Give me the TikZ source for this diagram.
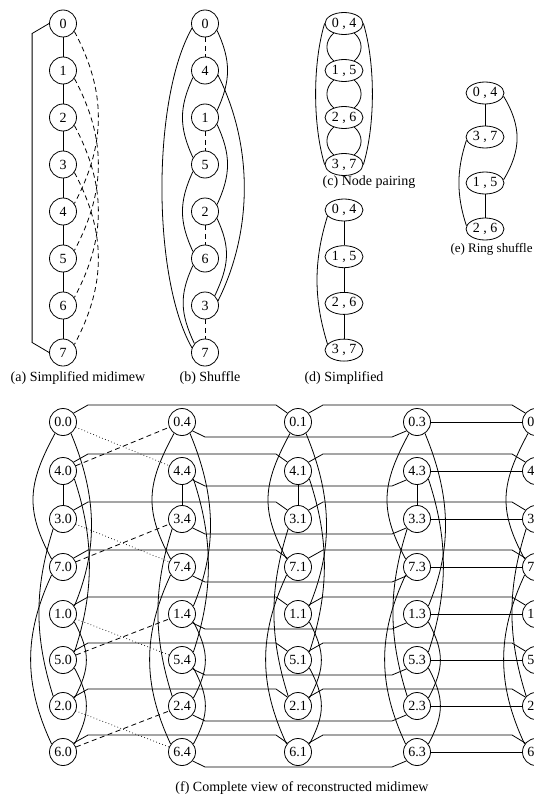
\documentclass[tikz,border=0pt]{standalone}
\usepackage{fontspec}
\setmainfont{Liberation Serif}
\usetikzlibrary{calc,shapes.geometric}
\begin{document}
\begin{tikzpicture}[x=1pt,y=-1pt,line width=0.8pt,
  every node/.style={font=\fontsize{14}{16}\selectfont},
  cnode/.style={circle,draw,fill=white,minimum size=27pt,inner sep=0pt},
  enode/.style={ellipse,draw,fill=white,minimum width=38pt,minimum height=22pt,inner sep=0pt},
  dsh/.style={dash pattern=on 5pt off 3.5pt},
  dtt/.style={line cap=round,dash pattern=on 0pt off 3.2pt,line width=1pt},
  captext/.style={inner sep=0pt}]
\useasboundingbox (0,0) rectangle (534,797);
\clip (0,0) rectangle (534,797);

% ---------------- (a) Simplified midimew
\foreach \k in {0,...,7}
  \node[cnode] (a\k) at (63,{23.5+47*\k}) {\k};
\foreach \k [evaluate=\k as \n using int(\k+1)] in {0,...,6}
  \draw (a\k) -- (a\n);
\foreach \k [evaluate=\k as \n using int(\k+4)] in {0,...,3}
  \draw[dsh] (a\k.-35) .. controls +(32,60) and +(32,-60) .. (a\n.35);
\draw (a0.west) -- ++(-17,10) -- ($(a7.west)+(-17,-10)$) -- (a7.west);
\node[captext] (capa) at (78,378) {(a) Simplified midimew};

% ---------------- (b) Shuffle
\foreach \k/\l in {0/0,1/4,2/1,3/5,4/2,5/6,6/3,7/7}
  \node[cnode] (b\k) at (205,{23.5+47*\k}) {\l};
\foreach \k [evaluate=\k as \n using int(\k+1)] in {0,2,4,6}
  \draw[dsh] (b\k) -- (b\n);
\draw (b0.200) .. controls +(-40,70) and +(-40,-70) .. (b7.160);
\draw (b1.-20) .. controls +(35,70) and +(35,-70) .. (b6.20);
\draw (b0.-30) .. controls +(14,30) and +(14,-30) .. (b2.30);
\draw (b2.-30) .. controls +(14,30) and +(14,-30) .. (b4.30);
\draw (b4.-30) .. controls +(14,30) and +(14,-30) .. (b6.45);
\draw (b1.210) .. controls +(-14,30) and +(-14,-30) .. (b3.150);
\draw (b3.210) .. controls +(-14,30) and +(-14,-30) .. (b5.150);
\draw (b5.210) .. controls +(-14,30) and +(-14,-30) .. (b7.140);
\node[captext] (capb) at (210,378) {(b) Shuffle};

% ---------------- (c) Node pairing
\foreach \k/\l in {0/{0 , 4},1/{1 , 5},2/{2 , 6},3/{3 , 7}}
  \node[enode] (c\k) at (344,{23.5+47*\k}) {\l};
\foreach \k [evaluate=\k as \n using int(\k+1)] in {0,1,2}{
  \draw (c\k.223) .. controls +(-9,8) and +(-9,-8) .. (c\n.137);
  \draw (c\k.317) .. controls +(9,8) and +(9,-8) .. (c\n.43);
}
\draw (c0.west) .. controls +(-12,40) and +(-12,-40) .. (c3.west);
\draw (c0.east) .. controls +(12,40) and +(12,-40) .. (c3.east);
\node[captext] (capc) at (369,182) {(c) Node pairing};

% ---------------- (d) Simplified
\foreach \k/\l in {0/{0 , 4},1/{1 , 5},2/{2 , 6},3/{3 , 7}}
  \node[enode] (d\k) at (344,{210+46.7*\k}) {\l};
\draw (d0) -- (d1) -- (d2) -- (d3);
\draw (d0.200) .. controls +(-14,45) and +(-14,-45) .. (d3.160);
\node[captext] (capd) at (344,378) {(d) Simplified};

% ---------------- (e) Ring shuffle
\node[enode] (e0) at (485,93) {0 , 4};
\node[enode] (e1) at (485,137) {3 , 7};
\node[enode] (e2) at (485,183) {1 , 5};
\node[enode] (e3) at (485,229) {2 , 6};
\draw (e0) -- (e1);
\draw (e2) -- (e3);
\draw (e0.-10) .. controls +(18,30) and +(18,-30) .. (e2.10);
\draw (e1.190) .. controls +(-10,30) and +(-10,-30) .. (e3.170);
\node[captext,anchor=east,font=\fontsize{13}{15}\selectfont] (cape) at (533,249) {(e) Ring shuffle};

% ---------------- (f) Complete view
\foreach \c/\x/\d in {0/63/0,1/182/4,2/298/1,3/417/3,4/536/7}{
  \foreach \p/\y/\r in {0/422/0,1/471/4,2/519/3,3/567/7,4/614/1,5/660/5,6/706/2,7/752/6}{
    \node[cnode] (f\c\p) at (\x,\y) {\r.\d};
  }
}
\foreach \c in {0,...,4}{
  \draw (f\c1) -- (f\c2);
  \draw (f\c0.235) .. controls +(-27,50) and +(-27,-50) .. (f\c3.145);
  \draw (f\c2.225) .. controls +(-19,60) and +(-19,-60) .. (f\c6.135);
  \draw (f\c3.215) .. controls +(-28,60) and +(-28,-60) .. (f\c7.145);
  \draw (f\c0.-55) .. controls +(25,60) and +(25,-60) .. (f\c4.35);
  \draw (f\c1.-35) .. controls +(20,60) and +(20,-60) .. (f\c5.35);
  \draw (f\c4.-35) .. controls +(16,30) and +(16,-30) .. (f\c6.35);
  \draw (f\c5.-35) .. controls +(16,30) and +(16,-30) .. (f\c7.35);
}
\foreach \p in {0,...,7}{
  \draw (f0\p.40) -- ($(f0\p)+(25,-17)$) -- ($(f2\p)+(-22,-17)$) -- (f2\p.140);
  \draw (f2\p.40) -- ($(f2\p)+(25,-17)$) -- ($(f4\p)+(-24,-17)$) -- (f4\p.140);
  \draw (f1\p.-40) -- ($(f1\p)+(23,15)$) -- ($(f3\p)+(-25,15)$) -- (f3\p.-140);
  \draw (f3\p) -- (f4\p);
}
\foreach \q [evaluate=\q as \n using int(\q+1)] in {0,2,4,6}{
  \draw[dtt] (f0\q) -- (f1\n);
  \draw[dsh] (f0\n) -- (f1\q);
}
\node[captext] (capf) at (302,788) {(f) Complete view of reconstructed midimew};
\end{tikzpicture}
\end{document}
